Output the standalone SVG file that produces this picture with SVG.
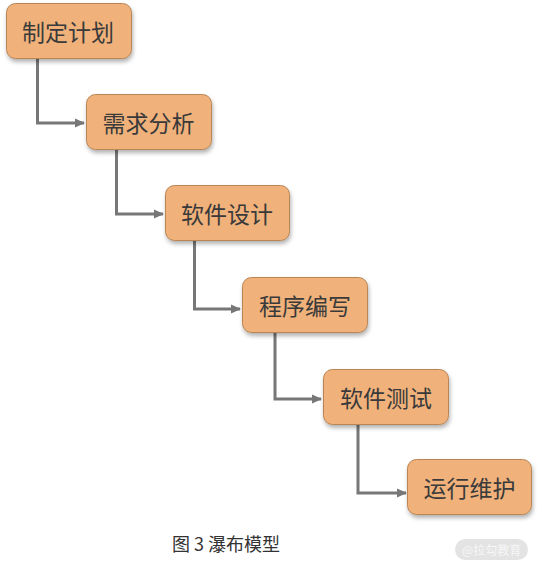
<svg xmlns="http://www.w3.org/2000/svg" width="538" height="567" viewBox="0 0 538 567">
<defs>
<style>
.box{fill:#f0b27a;stroke:#b98555;stroke-width:1}
.lbl{font-family:"Noto Sans CJK SC",sans-serif;font-size:23px;fill:#3a3a3a;text-anchor:middle;dominant-baseline:central}
.conn{fill:none;stroke:#777777;stroke-width:3}
</style>
<filter id="sh" x="-10%" y="-10%" width="130%" height="140%">
<feDropShadow dx="1" dy="3" stdDeviation="2" flood-color="#000" flood-opacity="0.3"/>
</filter>
<marker id="ah" markerWidth="12" markerHeight="12" refX="9" refY="6" orient="auto" markerUnits="userSpaceOnUse">
<path d="M0,1.5 L10,6 L0,10.5 Z" fill="#777777"/>
</marker>
</defs>
<rect width="538" height="567" fill="#ffffff"/>
<g id="connectors">
<path class="conn" d="M37.5,58 V123 H84" marker-end="url(#ah)"/>
<path class="conn" d="M116.5,150 V214 H163" marker-end="url(#ah)"/>
<path class="conn" d="M194.5,241 V309 H240" marker-end="url(#ah)"/>
<path class="conn" d="M275,332 V399 H321" marker-end="url(#ah)"/>
<path class="conn" d="M358,425 V493 H406" marker-end="url(#ah)"/>
</g>
<g id="n1"><rect class="box" x="6.5" y="3.5" width="125" height="55" rx="9" filter="url(#sh)"/><text class="lbl" x="68" y="31">制定计划</text></g>
<g id="n2"><rect class="box" x="86.5" y="94.5" width="125" height="55" rx="9" filter="url(#sh)"/><text class="lbl" x="148.5" y="122">需求分析</text></g>
<g id="n3"><rect class="box" x="165.5" y="185.5" width="124" height="55" rx="9" filter="url(#sh)"/><text class="lbl" x="227" y="213">软件设计</text></g>
<g id="n4"><rect class="box" x="242.5" y="277.5" width="125" height="55" rx="9" filter="url(#sh)"/><text class="lbl" x="305" y="305">程序编写</text></g>
<g id="n5"><rect class="box" x="323.5" y="369.5" width="125" height="55" rx="9" filter="url(#sh)"/><text class="lbl" x="386" y="397">软件测试</text></g>
<g id="n6"><rect class="box" x="407.5" y="459.5" width="124" height="55" rx="9" filter="url(#sh)"/><text class="lbl" x="469.5" y="487">运行维护</text></g>
<text x="226" y="543" font-family="Noto Sans CJK SC, sans-serif" font-size="18" fill="#333333" text-anchor="middle" dominant-baseline="central">图 3 瀑布模型</text>
<g id="watermark">
<rect x="455" y="539" width="73" height="21" rx="10.5" fill="#e3e3e3"/>
<text x="491.5" y="549.5" font-family="Noto Sans CJK SC, sans-serif" font-size="12" fill="#f7f7f7" text-anchor="middle" dominant-baseline="central">@拉勾教育</text>
</g>
</svg>
